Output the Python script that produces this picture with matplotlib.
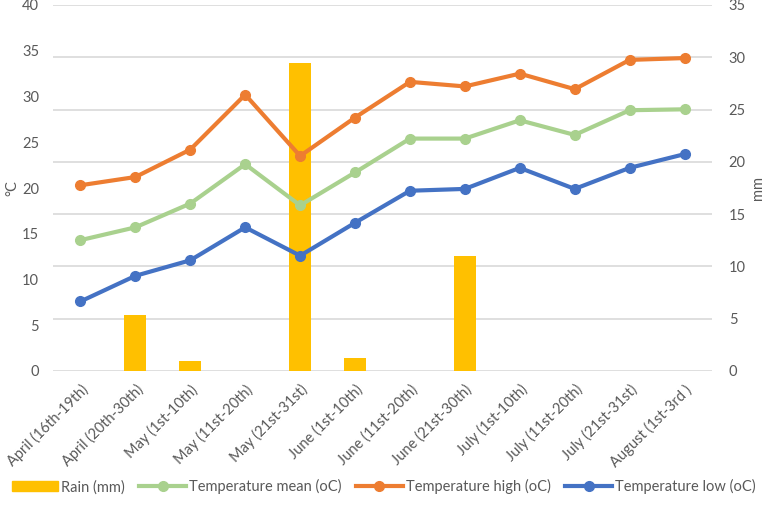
import numpy as np
import matplotlib
matplotlib.use("Agg")
import matplotlib.pyplot as plt
from matplotlib.lines import Line2D
from matplotlib.patches import Patch

periods = ["April (16th-19th)", "April (20th-30th)", "May (1st-10th)", "May (11st-20th)",
           "May (21st-31st)", "June (1st-10th)", "June (11st-20th)", "June (21st-30th)",
           "July (1st-10th)", "July (11st-20th)", "July (21st-31st)", "August (1st-3rd )"]
rain = [0, 5.4, 1.0, 0, 29.5, 1.2, 0, 11.0, 0, 0, 0, 0]
temp_mean = [14.3, 15.7, 18.3, 22.6, 18.1, 21.7, 25.4, 25.4, 27.4, 25.8, 28.5, 28.6]
temp_high = [20.3, 21.2, 24.2, 30.2, 23.5, 27.7, 31.6, 31.1, 32.5, 30.8, 34.0, 34.2]
temp_low = [7.6, 10.4, 12.1, 15.7, 12.6, 16.2, 19.7, 19.9, 22.2, 19.9, 22.2, 23.7]

plt.rcParams['font.family'] = ['Lato', 'DejaVu Sans']
grey = "#595959"

fig = plt.figure(figsize=(7.67, 5.05), dpi=100)
ax = fig.add_axes([53/767, 1 - 371/505, (712 - 53)/767, (371 - 5)/505])
ax2 = ax.twinx()

x = np.arange(len(periods))
ax2.bar(x, rain, width=0.4, color="#FFC000", zorder=2)

# lines drawn on top of the rain bars
ax.set_zorder(ax2.get_zorder() + 1)
ax.patch.set_visible(False)
ax.plot(x, temp_mean, color="#A9D18E", lw=3, marker="o", ms=7)
ax.plot(x, temp_high, color="#ED7D31", lw=3, marker="o", ms=7)
ax.plot(x, temp_low, color="#4472C4", lw=3, marker="o", ms=7)

ax.set_ylim(0, 40)
ax.set_yticks(range(0, 41, 5))
ax2.set_ylim(0, 35)
ax2.set_yticks(range(0, 36, 5))
ax.set_xlim(-0.5, len(periods) - 0.5)
ax.set_xticks(x)
ax.set_xticklabels(periods, rotation=45, ha="right", rotation_mode="anchor")

for a in (ax, ax2):
    for s in a.spines.values():
        s.set_visible(False)
    a.tick_params(length=0, colors=grey, labelsize=10.5)
ax.tick_params(axis="y", pad=10)
ax.tick_params(axis="x", pad=8)
ax2.tick_params(axis="y", pad=12)
ax2.yaxis.grid(True, color="#D9D9D9", lw=1.2)
ax2.set_axisbelow(True)

ax.set_ylabel("°C", color=grey, fontsize=10.5, labelpad=2)
ax2.set_ylabel("mm", color=grey, fontsize=10.5, labelpad=4)

handles = [Patch(color="#FFC000"),
           Line2D([], [], color="#A9D18E", lw=3, marker="o", ms=7),
           Line2D([], [], color="#ED7D31", lw=3, marker="o", ms=7),
           Line2D([], [], color="#4472C4", lw=3, marker="o", ms=7)]
labels = ["Rain (mm)", "Temperature mean (oC)", "Temperature high (oC)", "Temperature low (oC)"]
fig.legend(handles, labels, loc="lower center", bbox_to_anchor=(0.5, -0.005), ncol=4,
           frameon=False, fontsize=10.5, labelcolor=grey, handlelength=3.2,
           handletextpad=0.2, columnspacing=1.0)

fig.savefig("out.png", dpi=100)
